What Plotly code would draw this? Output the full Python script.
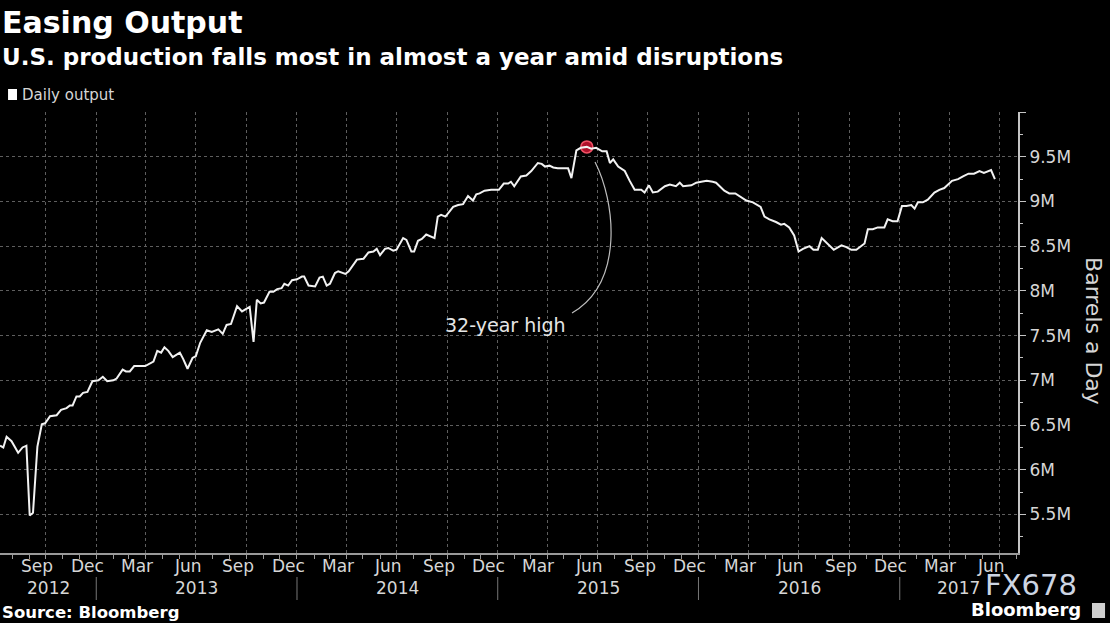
import plotly.graph_objects as go
import pandas as pd

# ---------------- data ----------------
dates = [
    "2012-07-10", "2012-07-16", "2012-07-22", "2012-07-31", "2012-08-12", "2012-08-20", "2012-08-27",
    "2012-09-02", "2012-09-08", "2012-09-16", "2012-09-24", "2012-09-30", "2012-10-09", "2012-10-21",
    "2012-10-29", "2012-11-08", "2012-11-14", "2012-11-19", "2012-11-26", "2012-12-02", "2012-12-08",
    "2012-12-16", "2012-12-25", "2013-01-05", "2013-01-13", "2013-01-21", "2013-02-01", "2013-02-07",
    "2013-02-18", "2013-02-24", "2013-03-03", "2013-03-11", "2013-03-31", "2013-04-15", "2013-04-22",
    "2013-04-29", "2013-05-05", "2013-05-12", "2013-05-20", "2013-06-02", "2013-06-08", "2013-06-16",
    "2013-06-25", "2013-07-01", "2013-07-09", "2013-07-21", "2013-07-30", "2013-08-11", "2013-08-19",
    "2013-08-26", "2013-09-03", "2013-09-14", "2013-09-23", "2013-10-07", "2013-10-14", "2013-10-20",
    "2013-10-27", "2013-11-02", "2013-11-12", "2013-11-19", "2013-11-26", "2013-12-04", "2013-12-09",
    "2013-12-16", "2013-12-23", "2014-01-01", "2014-01-10", "2014-01-14", "2014-01-22", "2014-02-03",
    "2014-02-11", "2014-02-17", "2014-02-24", "2014-03-02", "2014-03-11", "2014-03-17", "2014-03-30",
    "2014-04-05", "2014-04-20", "2014-05-02", "2014-05-11", "2014-05-20", "2014-05-26", "2014-06-01",
    "2014-06-10", "2014-06-16", "2014-06-25", "2014-07-01", "2014-07-13", "2014-07-19", "2014-07-28",
    "2014-08-02", "2014-08-09", "2014-08-16", "2014-08-24", "2014-09-02", "2014-09-08", "2014-09-14",
    "2014-09-20", "2014-09-28", "2014-10-12", "2014-10-21", "2014-10-30", "2014-11-08", "2014-11-17",
    "2014-11-23", "2014-11-29", "2014-12-08", "2014-12-20", "2015-01-03", "2015-01-12", "2015-01-20",
    "2015-01-25", "2015-01-31", "2015-02-12", "2015-02-22", "2015-03-03", "2015-03-15", "2015-03-22",
    "2015-03-28", "2015-04-05", "2015-04-12", "2015-04-20", "2015-04-30", "2015-05-09", "2015-05-15",
    "2015-05-24", "2015-06-01", "2015-06-12", "2015-06-20", "2015-06-29", "2015-07-10", "2015-07-18",
    "2015-07-24", "2015-07-30", "2015-08-08", "2015-08-20", "2015-08-29", "2015-09-07", "2015-09-19",
    "2015-09-25", "2015-10-03", "2015-10-10", "2015-10-19", "2015-11-01", "2015-11-10", "2015-11-21",
    "2015-11-28", "2015-12-04", "2015-12-19", "2015-12-28", "2016-01-06", "2016-01-16", "2016-01-27",
    "2016-02-02", "2016-02-17", "2016-02-26", "2016-03-08", "2016-03-19", "2016-03-28", "2016-04-09",
    "2016-04-23", "2016-04-30", "2016-05-09", "2016-05-21", "2016-05-30", "2016-06-05", "2016-06-14",
    "2016-06-23", "2016-07-01", "2016-07-09", "2016-07-21", "2016-07-28", "2016-08-05", "2016-08-12",
    "2016-08-23", "2016-09-03", "2016-09-17", "2016-09-26", "2016-10-05", "2016-10-14", "2016-10-29",
    "2016-11-04", "2016-11-13", "2016-11-22", "2016-12-04", "2016-12-10", "2016-12-19", "2016-12-28",
    "2017-01-05", "2017-01-13", "2017-01-22", "2017-01-28", "2017-02-03", "2017-02-12", "2017-02-21",
    "2017-03-05", "2017-03-14", "2017-03-23", "2017-04-06", "2017-04-17", "2017-04-26", "2017-05-06",
    "2017-05-16", "2017-05-26", "2017-06-03", "2017-06-16", "2017-06-23",
]

output_mbd = [
    6.27, 6.25, 6.37, 6.32, 6.19, 6.25, 6.27,
    5.49, 5.52, 6.26, 6.51, 6.52, 6.60, 6.61,
    6.67, 6.69, 6.72, 6.72, 6.82, 6.82, 6.86,
    6.87, 6.99, 7.00, 7.04, 6.99, 7.00, 7.02,
    7.12, 7.10, 7.10, 7.16, 7.16, 7.21, 7.33,
    7.31, 7.37, 7.33, 7.26, 7.31, 7.24, 7.13,
    7.25, 7.27, 7.42, 7.56, 7.54, 7.57, 7.52,
    7.62, 7.63, 7.83, 7.77, 7.82, 7.43, 7.90,
    7.86, 7.87, 7.99, 7.99, 8.02, 8.03, 8.08,
    8.06, 8.12, 8.13, 8.16, 8.16, 8.06, 8.05,
    8.15, 8.16, 8.06, 8.08, 8.20, 8.22, 8.19,
    8.22, 8.35, 8.36, 8.43, 8.44, 8.47, 8.40,
    8.47, 8.48, 8.45, 8.46, 8.59, 8.57, 8.44,
    8.44, 8.56, 8.58, 8.63, 8.61, 8.59, 8.83,
    8.85, 8.83, 8.94, 8.96, 8.97, 9.06, 9.01,
    9.08, 9.09, 9.12, 9.13, 9.13, 9.20, 9.20,
    9.22, 9.17, 9.28, 9.29, 9.34, 9.43, 9.42,
    9.39, 9.40, 9.38, 9.37, 9.37, 9.37, 9.26,
    9.57, 9.60, 9.61, 9.59, 9.60, 9.56, 9.56,
    9.43, 9.47, 9.39, 9.34, 9.23, 9.13, 9.13,
    9.10, 9.18, 9.10, 9.11, 9.17, 9.19, 9.17,
    9.21, 9.17, 9.18, 9.21, 9.22, 9.23, 9.22,
    9.21, 9.12, 9.09, 9.09, 9.05, 9.01, 8.99,
    8.94, 8.83, 8.80, 8.77, 8.74, 8.75, 8.71,
    8.62, 8.44, 8.47, 8.50, 8.46, 8.46, 8.59,
    8.52, 8.46, 8.51, 8.49, 8.46, 8.46, 8.53,
    8.69, 8.69, 8.71, 8.71, 8.80, 8.78, 8.78,
    8.95, 8.95, 8.96, 8.92, 8.99, 8.99, 9.02,
    9.10, 9.13, 9.15, 9.23, 9.25, 9.28, 9.31,
    9.31, 9.34, 9.32, 9.35, 9.25,
]

label_months = ["2012-09", "2012-12", "2013-03", "2013-06", "2013-09", "2013-12", "2014-03",
                "2014-06", "2014-09", "2014-12", "2015-03", "2015-06", "2015-09", "2015-12",
                "2016-03", "2016-06", "2016-09", "2016-12", "2017-03", "2017-06"]
month_labels = ["Sep", "Dec", "Mar", "Jun", "Sep", "Dec", "Mar", "Jun", "Sep", "Dec",
                "Mar", "Jun", "Sep", "Dec", "Mar", "Jun", "Sep", "Dec", "Mar", "Jun"]
year_labels = ["2012", "2013", "2014", "2015", "2016", "2017"]

y_tick_vals = [5.5, 6.0, 6.5, 7.0, 7.5, 8.0, 8.5, 9.0, 9.5, 10.0]
y_tick_text = ["5.5M", "6M", "6.5M", "7M", "7.5M", "8M", "8.5M", "9M", "9.5M", ""]

x_range = ["2012-07-10", "2017-08-04"]
y_range = [5.07, 10.0]

# ---------------- styling ----------------
FONT = "DejaVu Sans"
GRID = "#5e5e5e"
TXT = "#d6d6d6"

fig = go.Figure()

# peak marker (drawn under the line)
peak_i = max(range(len(output_mbd)), key=lambda i: output_mbd[i])
fig.add_trace(go.Scatter(
    x=[dates[peak_i]], y=[output_mbd[peak_i]], mode="markers",
    marker=dict(size=12, color="rgba(205,20,50,0.85)",
                line=dict(width=1.5, color="rgba(255,90,110,0.9)")),
    showlegend=False, hoverinfo="skip"))

fig.add_trace(go.Scatter(
    x=dates, y=output_mbd, mode="lines", name="Daily output",
    line=dict(color="#f2f2f2", width=2), showlegend=False))

quarters = pd.date_range("2012-10-01", "2017-07-01", freq="QS")

fig.update_xaxes(
    type="date", range=x_range,
    tickvals=list(quarters), showticklabels=False,
    ticks="outside", ticklen=4, tickcolor="#9a9a9a",
    showgrid=True, gridcolor=GRID, griddash="dot", gridwidth=1,
    showline=True, linecolor="#9a9a9a", linewidth=1.5,
    minor=dict(dtick="M1", tick0="2012-08-01", ticks="outside", ticklen=4,
               tickcolor="#9a9a9a", showgrid=False),
    zeroline=False, fixedrange=True,
)
fig.update_yaxes(
    side="right", range=y_range,
    tickvals=y_tick_vals, ticktext=y_tick_text,
    tickfont=dict(family=FONT, size=17, color=TXT),
    ticks="outside", ticklen=6, tickcolor="#c4c4c4",
    showgrid=True, gridcolor=GRID, griddash="dot", gridwidth=1,
    showline=True, linecolor="#c4c4c4", linewidth=2,
    minor=dict(tick0=5.0, dtick=0.25, ticks="outside", ticklen=3,
               tickcolor="#c4c4c4", showgrid=False),
    zeroline=False, fixedrange=True,
)

annotations = []
shapes = []

# month labels centred on each month
for m, lab in zip(label_months, month_labels):
    annotations.append(dict(x=pd.Timestamp(m + "-16"), xref="x", y=-0.0295, yref="paper",
                            text=lab, showarrow=False, xanchor="center", yanchor="middle",
                            font=dict(family=FONT, size=17, color=TXT)))

# year labels centred on visible part of each year
x0 = pd.Timestamp(x_range[0]); x1 = pd.Timestamp(x_range[1])
for yr in year_labels:
    a = max(pd.Timestamp(yr + "-01-01"), x0)
    b = min(pd.Timestamp(str(int(yr) + 1) + "-01-01"), x1)
    annotations.append(dict(x=a + (b - a) / 2, xref="x", y=-0.0794, yref="paper",
                            text=yr, showarrow=False, xanchor="center", yanchor="middle",
                            font=dict(family=FONT, size=17, color=TXT)))
    if pd.Timestamp(yr + "-01-01") > x0:
        shapes.append(dict(type="line", xref="x", yref="paper",
                           x0=yr + "-01-01", x1=yr + "-01-01", y0=-0.0544, y1=-0.1066,
                           line=dict(color="#777777", width=1)))

# titles
annotations += [
    dict(x=0, xref="paper", y=1.2029, yref="paper", text="Easing Output", showarrow=False,
         xanchor="left", yanchor="middle",
         font=dict(family=FONT, size=30, color="#ffffff", weight="bold")),
    dict(x=0, xref="paper", y=1.1247, yref="paper",
         text="U.S. production falls most in almost a year amid disruptions", showarrow=False,
         xanchor="left", yanchor="middle",
         font=dict(family=FONT, size=23, color="#ffffff", weight="bold")),
    dict(x=0.0196, xref="paper", y=1.0385, yref="paper", text="Daily output", showarrow=False,
         xanchor="left", yanchor="middle", font=dict(family=FONT, size=15, color=TXT)),
    dict(x=0, xref="paper", y=-0.1338, yref="paper", text="Source: Bloomberg", showarrow=False,
         xanchor="left", yanchor="middle",
         font=dict(family=FONT, size=16.5, color="#ffffff", weight="bold")),
    dict(x=1.0128, xref="paper", y=-0.0725, yref="paper", text="FX678", showarrow=False,
         xanchor="center", yanchor="middle",
         font=dict(family=FONT, size=29, color="#cdd5e3")),
    dict(x=1.0079, xref="paper", y=-0.127, yref="paper", text="Bloomberg", showarrow=False,
         xanchor="center", yanchor="middle",
         font=dict(family=FONT, size=18, color="#ffffff", weight="bold")),
    dict(x=1.0746, xref="paper", y=0.5034, yref="paper", text="Barrels a Day", showarrow=False,
         textangle=90, xanchor="center", yanchor="middle",
         font=dict(family=FONT, size=22, color=TXT)),
    dict(x=0.4961, xref="paper", y=0.517, yref="paper", text="32-year high", showarrow=False,
         xanchor="center", yanchor="middle",
         font=dict(family=FONT, size=19, color="#e6e6e6")),
]

# legend swatch
shapes.append(dict(type="rect", xref="paper", yref="paper", x0=0.0079, x1=0.0167,
                   y0=1.0272, y1=1.0522, fillcolor="#ffffff", line=dict(width=0)))
# curved connector for the annotation
shapes.append(dict(type="path", xref="paper", yref="paper",
                   path="M 0.5845 0.8866 C 0.6041 0.7982 0.6139 0.6145 0.5619 0.5442",
                   line=dict(color="#bdbdbd", width=1.2)))
# small logo box
shapes.append(dict(type="rect", xref="paper", yref="paper", x0=1.0727, x1=1.0855,
                   y0=-0.1474, y1=-0.1134, fillcolor="#cfcfcf", line=dict(width=0)))

fig.update_layout(
    width=1110, height=623,
    margin=dict(l=0, r=92, t=112, b=70, pad=0),
    paper_bgcolor="#000000", plot_bgcolor="#000000",
    font=dict(family=FONT, color=TXT),
    annotations=annotations, shapes=shapes,
    showlegend=False, hovermode=False,
)

fig.write_html("out.html", config={"displayModeBar": False},
               post_script="document.body.style.margin='0';document.body.style.overflow='hidden';")
